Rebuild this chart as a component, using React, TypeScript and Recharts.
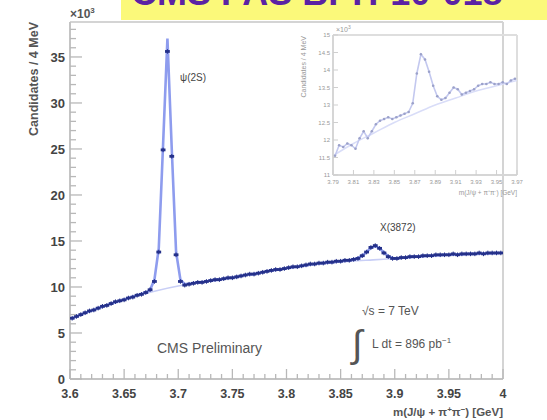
import React from 'react';
import { ComposedChart, Line, Scatter, XAxis, YAxis, ReferenceLine } from 'recharts';

// ---------- main plot data (×10^3 candidates per 4 MeV) ----------
const massBins: number[] = [
  3.602, 3.606, 3.610, 3.614, 3.618, 3.622, 3.626, 3.630, 3.634, 3.638,
  3.642, 3.646, 3.650, 3.654, 3.658, 3.662, 3.666, 3.670, 3.674, 3.678,
  3.682, 3.686, 3.690, 3.694, 3.698, 3.702, 3.706, 3.710, 3.714, 3.718,
  3.722, 3.726, 3.730, 3.734, 3.738, 3.742, 3.746, 3.750, 3.754, 3.758,
  3.762, 3.766, 3.770, 3.774, 3.778, 3.782, 3.786, 3.790, 3.794, 3.798,
  3.802, 3.806, 3.810, 3.814, 3.818, 3.822, 3.826, 3.830, 3.834, 3.838,
  3.842, 3.846, 3.850, 3.854, 3.858, 3.862, 3.866, 3.870, 3.874, 3.878,
  3.882, 3.886, 3.890, 3.894, 3.898, 3.902, 3.906, 3.910, 3.914, 3.918,
  3.922, 3.926, 3.930, 3.934, 3.938, 3.942, 3.946, 3.950, 3.954, 3.958,
  3.962, 3.966, 3.970, 3.974, 3.978, 3.982, 3.986, 3.990, 3.994, 3.998,
];

const candidates: number[] = [
  6.6, 6.8, 7.0, 7.2, 7.4, 7.5, 7.7, 7.9, 8.0, 8.2,
  8.4, 8.5, 8.6, 8.8, 8.9, 9.1, 9.2, 9.4, 9.7, 10.6,
  13.8, 24.9, 35.6, 24.2, 13.5, 10.6, 10.2, 10.3, 10.4, 10.5,
  10.5, 10.6, 10.7, 10.8, 10.8, 10.9, 11.0, 11.0, 11.1, 11.2,
  11.3, 11.4, 11.4, 11.5, 11.6, 11.7, 11.8, 11.9, 11.9, 12.0,
  12.1, 12.2, 12.2, 12.3, 12.4, 12.5, 12.5, 12.6, 12.6, 12.7,
  12.7, 12.8, 12.8, 12.9, 12.9, 13.0, 13.1, 13.4, 13.8, 14.3,
  14.5, 14.2, 13.7, 13.3, 13.1, 13.1, 13.2, 13.2, 13.3, 13.3,
  13.3, 13.4, 13.4, 13.4, 13.5, 13.5, 13.5, 13.5, 13.6, 13.5,
  13.6, 13.6, 13.6, 13.6, 13.7, 13.6, 13.7, 13.7, 13.7, 13.7,
];

const fitCurve: number[] = [
  6.6, 6.8, 7.0, 7.2, 7.35, 7.5, 7.7, 7.85, 8.0, 8.2,
  8.35, 8.5, 8.65, 8.8, 8.95, 9.1, 9.25, 9.4, 9.7, 10.8,
  14.2, 25.5, 37.0, 25.0, 13.8, 10.8, 10.3, 10.35, 10.4, 10.5,
  10.55, 10.6, 10.7, 10.75, 10.8, 10.9, 10.95, 11.0, 11.1, 11.2,
  11.3, 11.35, 11.4, 11.5, 11.6, 11.7, 11.8, 11.85, 11.9, 12.0,
  12.1, 12.15, 12.2, 12.3, 12.35, 12.45, 12.5, 12.55, 12.6, 12.65,
  12.7, 12.75, 12.8, 12.85, 12.9, 13.0, 13.15, 13.4, 13.8, 14.25,
  14.45, 14.2, 13.75, 13.35, 13.15, 13.1, 13.15, 13.2, 13.25, 13.3,
  13.3, 13.35, 13.4, 13.4, 13.45, 13.45, 13.5, 13.5, 13.52, 13.55,
  13.55, 13.58, 13.6, 13.6, 13.62, 13.63, 13.65, 13.66, 13.68, 13.7,
];

const bgMass: number[] = [
  3.60, 3.62, 3.64, 3.66, 3.68, 3.70, 3.72, 3.74, 3.76, 3.78, 3.80,
  3.82, 3.84, 3.86, 3.88, 3.90, 3.92, 3.94, 3.96, 3.98, 4.00,
];
const bgValues: number[] = [
  6.6, 7.5, 8.3, 9.0, 9.6, 10.1, 10.5, 10.9, 11.3, 11.65, 12.0,
  12.35, 12.6, 12.8, 12.95, 13.1, 13.25, 13.4, 13.5, 13.6, 13.7,
];

const xTicks: number[] = [
  3.6, 3.61, 3.62, 3.63, 3.64, 3.65, 3.66, 3.67, 3.68, 3.69,
  3.7, 3.71, 3.72, 3.73, 3.74, 3.75, 3.76, 3.77, 3.78, 3.79,
  3.8, 3.81, 3.82, 3.83, 3.84, 3.85, 3.86, 3.87, 3.88, 3.89,
  3.9, 3.91, 3.92, 3.93, 3.94, 3.95, 3.96, 3.97, 3.98, 3.99, 4.0,
];
const xMajorTicks: number[] = [3.6, 3.65, 3.7, 3.75, 3.8, 3.85, 3.9, 3.95, 4.0];
const yTicks: number[] = [
  0, 1, 2, 3, 4, 5, 6, 7, 8, 9, 10, 11, 12, 13, 14, 15, 16, 17, 18, 19,
  20, 21, 22, 23, 24, 25, 26, 27, 28, 29, 30, 31, 32, 33, 34, 35, 36, 37, 38,
];
const yMajorTicks: number[] = [0, 5, 10, 15, 20, 25, 30, 35];

// ---------- inset data (zoom on X(3872)) ----------
const insetMass: number[] = [
  3.792, 3.796, 3.800, 3.804, 3.808, 3.812, 3.816, 3.820, 3.824, 3.828,
  3.832, 3.836, 3.840, 3.844, 3.848, 3.852, 3.856, 3.860, 3.864, 3.868,
  3.872, 3.876, 3.880, 3.884, 3.888, 3.892, 3.896, 3.900, 3.904, 3.908,
  3.912, 3.916, 3.920, 3.924, 3.928, 3.932, 3.936, 3.940, 3.944, 3.948,
  3.952, 3.956, 3.960, 3.964, 3.968,
];
const insetCandidates: number[] = [
  11.55, 11.85, 11.8, 11.9, 11.85, 11.75, 12.05, 12.25, 12.05, 12.25,
  12.45, 12.55, 12.6, 12.65, 12.6, 12.65, 12.7, 12.75, 12.8, 13.05,
  13.9, 14.45, 14.3, 13.95, 13.55, 13.25, 13.15, 13.2, 13.35, 13.5,
  13.45, 13.3, 13.35, 13.4, 13.45, 13.55, 13.6, 13.6, 13.65, 13.6,
  13.6, 13.65, 13.6, 13.7, 13.75,
];
const insetBgMass: number[] = [3.79, 3.81, 3.83, 3.85, 3.87, 3.89, 3.91, 3.93, 3.95, 3.97];
const insetBgValues: number[] = [11.55, 11.9, 12.2, 12.5, 12.75, 13.0, 13.2, 13.4, 13.55, 13.7];
const insetXTicks: number[] = [3.79, 3.81, 3.83, 3.85, 3.87, 3.89, 3.91, 3.93, 3.95, 3.97];
const insetYTicks: number[] = [11, 11.5, 12, 12.5, 13, 13.5, 14, 14.5, 15];

const FONT = '"Liberation Sans", Arial, sans-serif';
const AXIS_GRAY = '#c4c4c4';

const mainRows = massBins.map((m, i) => ({ m, cand: candidates[i], fit: fitCurve[i] }));
const bgRows = bgMass.map((m, i) => ({ m, bg: bgValues[i] }));
const insetRows = insetMass.map((m, i) => ({ m, cand: insetCandidates[i] }));
const insetBgRows = insetBgMass.map((m, i) => ({ m, bg: insetBgValues[i] }));

const isIn = (arr: number[], v: number) => arr.some((t) => Math.abs(t - v) < 1e-6);

const MainXTick = (props: any) => {
  const { x, y, payload } = props;
  const v = payload.value as number;
  const major = isIn(xMajorTicks, v);
  return (
    <g>
      <line x1={x} x2={x} y1={y} y2={y - (major ? 10 : 5)} stroke="#b8b8b8" strokeWidth={1.3} />
      {major && (
        <text x={x} y={y + 19} textAnchor="middle" fontFamily={FONT} fontWeight="bold" fontSize={12.5} fill="#444">
          {String(v)}
        </text>
      )}
    </g>
  );
};

const MainYTick = (props: any) => {
  const { x, y, payload } = props;
  const v = payload.value as number;
  const major = isIn(yMajorTicks, v);
  return (
    <g>
      <line x1={x} x2={x + (major ? 12 : 6)} y1={y} y2={y} stroke="#b8b8b8" strokeWidth={1.3} />
      {major && (
        <text x={x - 5} y={y + 5} textAnchor="end" fontFamily={FONT} fontWeight="bold" fontSize={13} fill="#444">
          {String(v)}
        </text>
      )}
    </g>
  );
};

const InsetXTick = (props: any) => {
  const { x, y, payload } = props;
  const v = payload.value as number;
  return (
    <g>
      <line x1={x} x2={x} y1={y} y2={y - 5} stroke="#cfcfcf" strokeWidth={1} />
      <text x={x} y={y + 9} textAnchor="middle" fontFamily={FONT} fontSize={6} fill="#999">
        {v.toFixed(2)}
      </text>
    </g>
  );
};

const InsetYTick = (props: any) => {
  const { x, y, payload } = props;
  const v = payload.value as number;
  return (
    <g>
      <line x1={x} x2={x + 5} y1={y} y2={y} stroke="#cfcfcf" strokeWidth={1} />
      <text x={x - 3} y={y + 2} textAnchor="end" fontFamily={FONT} fontSize={6} fill="#999">
        {Number.isInteger(v) ? String(v) : v.toFixed(1)}
      </text>
    </g>
  );
};

const PointShape = (props: any) => {
  const { cx, cy } = props;
  if (cx == null || cy == null) return null;
  return (
    <g>
      <rect x={cx - 2.4} y={cy - 1.4} width={4.8} height={2.8} fill="#25318a" />
      <line x1={cx} x2={cx} y1={cy - 2.3} y2={cy + 2.3} stroke="#25318a" strokeWidth={1} />
    </g>
  );
};

export default function App() {
  return (
    <div style={{ position: 'absolute', left: 0, top: 0, width: 547, height: 420, background: '#fff', overflow: 'hidden' }}>
      {/* main chart */}
      <div style={{ position: 'absolute', left: 0, top: 0 }}>
        <ComposedChart width={547} height={420} data={mainRows} margin={{ top: 22, right: 44, bottom: 11, left: 0 }}>
          <XAxis
            dataKey="m"
            type="number"
            domain={[3.6, 4.0]}
            ticks={xTicks}
            interval={0}
            allowDataOverflow
            height={30}
            tickSize={0}
            tickMargin={0}
            tick={<MainXTick />}
            axisLine={{ stroke: AXIS_GRAY, strokeWidth: 2 }}
          />
          <YAxis
            type="number"
            domain={[0, 38.8]}
            ticks={yTicks}
            interval={0}
            allowDataOverflow
            width={70}
            tickSize={0}
            tickMargin={0}
            tick={<MainYTick />}
            axisLine={{ stroke: AXIS_GRAY, strokeWidth: 2 }}
          />
          <ReferenceLine y={38.8} stroke="#d4d4d4" strokeWidth={2} />
          <ReferenceLine x={4.0} stroke="#d4d4d4" strokeWidth={2} />
          <Line
            data={bgRows}
            dataKey="bg"
            type="monotone"
            stroke="#c9cff6"
            strokeWidth={1.6}
            dot={false}
            isAnimationActive={false}
          />
          <Line
            dataKey="fit"
            type="linear"
            stroke="#8e9cee"
            strokeWidth={2.6}
            dot={false}
            isAnimationActive={false}
          />
          <Scatter dataKey="cand" shape={<PointShape />} isAnimationActive={false} />
        </ComposedChart>
      </div>

      {/* inset chart */}
      <div style={{ position: 'absolute', left: 297, top: 20 }}>
        <ComposedChart width={250} height={190} data={insetRows} margin={{ top: 15, right: 30, bottom: 15, left: 0 }}>
          <XAxis
            dataKey="m"
            type="number"
            domain={[3.79, 3.97]}
            ticks={insetXTicks}
            interval={0}
            allowDataOverflow
            height={20}
            tickSize={0}
            tickMargin={0}
            tick={<InsetXTick />}
            axisLine={{ stroke: '#d6d6d6', strokeWidth: 2 }}
          />
          <YAxis
            type="number"
            domain={[11, 15]}
            ticks={insetYTicks}
            interval={0}
            allowDataOverflow
            width={36}
            tickSize={0}
            tickMargin={0}
            tick={<InsetYTick />}
            axisLine={{ stroke: '#d6d6d6', strokeWidth: 2 }}
          />
          <ReferenceLine y={15} stroke="#dedede" strokeWidth={2} />
          <ReferenceLine x={3.97} stroke="#dedede" strokeWidth={2} />
          <Line
            data={insetBgRows}
            dataKey="bg"
            type="monotone"
            stroke="#d9ddf8"
            strokeWidth={1.5}
            dot={false}
            isAnimationActive={false}
          />
          <Line
            dataKey="cand"
            type="linear"
            stroke="#c3c8ef"
            strokeWidth={1.6}
            dot={{ r: 1.3, fill: '#9ba1c9', stroke: 'none' }}
            isAnimationActive={false}
          />
        </ComposedChart>
      </div>

      {/* text overlay */}
      <svg width={547} height={420} style={{ position: 'absolute', left: 0, top: 0, pointerEvents: 'none' }}>
        <rect x={121} y={0} width={426} height={20} fill="#fbf97a" />
        <text x={131} y={5} fontFamily={FONT} fontWeight="bold" fontSize={36} fill="#5b22a4">
          CMS PAS BPH-10-018
        </text>

        <text x={70} y={18} fontFamily={FONT} fontWeight="bold" fontSize={12} fill="#555">
          <tspan>×10</tspan>
          <tspan dy={-5} fontSize={8}>3</tspan>
        </text>
        <text
          x={38}
          y={22}
          transform="rotate(-90 38 22)"
          textAnchor="end"
          fontFamily={FONT}
          fontWeight="bold"
          fontSize={12.5}
          fill="#555"
        >
          Candidates / 4 MeV
        </text>
        <text x={503} y={416} textAnchor="end" fontFamily={FONT} fontWeight="bold" fontSize={11.5} fill="#555">
          <tspan>m(J/ψ + π</tspan>
          <tspan dy={-4} fontSize={8}>+</tspan>
          <tspan dy={4}>π</tspan>
          <tspan dy={-4} fontSize={8}>−</tspan>
          <tspan dy={4}>) [GeV]</tspan>
        </text>

        <text x={180} y={81} fontFamily={FONT} fontSize={10} fill="#444">ψ(2S)</text>
        <text x={380} y={231} fontFamily={FONT} fontSize={10} fill="#444">X(3872)</text>
        <text x={157} y={353} fontFamily={FONT} fontSize={14} fill="#555">CMS Preliminary</text>
        <text x={362} y={315} fontFamily={FONT} fontSize={12} fill="#555">√s = 7 TeV</text>
        <text x={352} y={357} fontFamily={FONT} fontSize={38} fill="#555">∫</text>
        <text x={372} y={348} fontFamily={FONT} fontSize={12} fill="#555">
          <tspan>L dt = 896 pb</tspan>
          <tspan dy={-5} fontSize={8}>−1</tspan>
        </text>

        {/* inset titles */}
        <text x={336} y={32} fontFamily={FONT} fontSize={7} fill="#999">
          <tspan>×10</tspan>
          <tspan dy={-3} fontSize={5}>3</tspan>
        </text>
        <text
          x={306}
          y={36}
          transform="rotate(-90 306 36)"
          textAnchor="end"
          fontFamily={FONT}
          fontSize={7}
          fill="#999"
        >
          Candidates / 4 MeV
        </text>
        <text x={517} y={195} textAnchor="end" fontFamily={FONT} fontSize={6.5} fill="#999">
          m(J/ψ + π⁺π⁻) [GeV]
        </text>
      </svg>
    </div>
  );
}
